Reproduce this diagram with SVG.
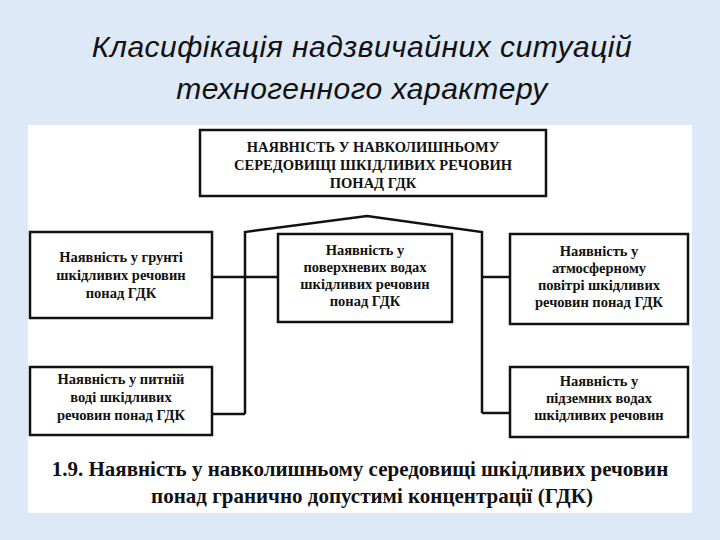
<svg xmlns="http://www.w3.org/2000/svg" width="720" height="540" viewBox="0 0 720 540">
<style>
.t{font-family:"Liberation Sans",Arial,sans-serif;font-style:italic;font-size:30px;fill:#111;text-anchor:middle;letter-spacing:0.5px}
.b{fill:#fff;stroke:#111;stroke-width:2.5}
.n{font-family:"Liberation Serif","Times New Roman",serif;font-weight:bold;font-size:14.5px;fill:#111;text-anchor:middle}
.c{fill:none;stroke:#111;stroke-width:2.5}
.cap{font-family:"Liberation Serif","Times New Roman",serif;font-weight:bold;font-size:21px;fill:#111;text-anchor:middle}
</style>
<rect width="720" height="540" fill="#dde9f6"/>
<text class="t" x="362" y="57">Класифікація надзвичайних ситуацій</text>
<text class="t" x="362" y="99">техногенного характеру</text>
<rect x="28" y="125" width="664" height="388" fill="#fff"/>
<g id="connectors">
<path class="c" d="M245 414 V232 L367 216 L482 232 V413"/>
<path class="c" d="M212 277 H278"/>
<path class="c" d="M482 277 H510"/>
<path class="c" d="M212 414 H245"/>
<path class="c" d="M482 413 H510"/>
</g>
<g id="top"><rect class="b" x="200" y="130" width="346" height="66"/>
<text class="n" x="373" y="152">НАЯВНІСТЬ У НАВКОЛИШНЬОМУ</text>
<text class="n" x="373" y="170">СЕРЕДОВИЩІ ШКІДЛИВИХ РЕЧОВИН</text>
<text class="n" x="373" y="188">ПОНАД ГДК</text></g>
<g id="soil"><rect class="b" x="30" y="232" width="182" height="86"/>
<text class="n" x="121" y="262">Наявність у грунті</text>
<text class="n" x="121" y="280">шкідливих речовин</text>
<text class="n" x="121" y="298">понад ГДК</text></g>
<g id="surface"><rect class="b" x="278" y="234" width="174" height="88"/>
<text class="n" x="365" y="255">Наявність у</text>
<text class="n" x="365" y="272">поверхневих водах</text>
<text class="n" x="365" y="289">шкідливих речовин</text>
<text class="n" x="365" y="306">понад ГДК</text></g>
<g id="air"><rect class="b" x="510" y="234" width="178" height="90"/>
<text class="n" x="599" y="256">Наявність у</text>
<text class="n" x="599" y="273">атмосферному</text>
<text class="n" x="599" y="290">повітрі шкідливих</text>
<text class="n" x="599" y="307">речовин понад ГДК</text></g>
<g id="drink"><rect class="b" x="30" y="367" width="182" height="68"/>
<text class="n" x="121" y="384">Наявність у питній</text>
<text class="n" x="121" y="402">воді шкідливих</text>
<text class="n" x="121" y="420">речовин понад ГДК</text></g>
<g id="ground"><rect class="b" x="510" y="367" width="178" height="70"/>
<text class="n" x="599" y="386">Наявність у</text>
<text class="n" x="599" y="403">підземних водах</text>
<text class="n" x="599" y="420">шкідливих речовин</text></g>
<text class="cap" x="360" y="476">1.9. Наявність у навколишньому середовищі шкідливих речовин</text>
<text class="cap" x="372" y="503">понад гранично допустимі концентрації (ГДК)</text>
</svg>
